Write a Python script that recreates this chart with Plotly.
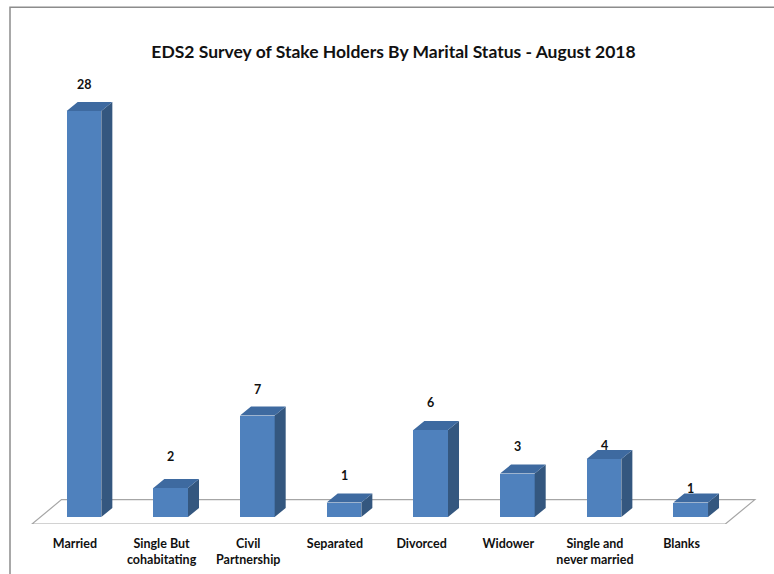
import plotly.graph_objects as go

# Survey counts by marital status
categories = [
    "Married", "Single But<br>cohabitating", "Civil<br>Partnership", "Separated",
    "Divorced", "Widower", "Single and<br>never married", "Blanks",
]
counts = [28, 2, 7, 1, 6, 3, 4, 1]

# vertical lift of each value label above its bar (px)
label_lift = [27, 32, 26, 27, 28, 27, 14, 14]

FONT = "Lato, Liberation Sans, sans-serif"
FRONT = "#4f81bd"
TOP = "#3e6aa0"
SIDE = "#34577f"

n = len(counts)
half_w = 0.2          # half of bar width (category units)
dx, dy = 0.127, 0.62  # bar depth offset (x units, value units)

# floor parallelogram
floor_front_y, floor_back_y = -0.48, 1.2
floor_x0, floor_x1 = -0.6, n - 0.6
floor_shift = 0.34

fig = go.Figure()

# front faces
fig.add_trace(go.Bar(
    x=list(range(n)), y=counts, width=2 * half_w,
    marker=dict(color=FRONT, line=dict(width=0)), showlegend=False,
))

# side and top faces
side_x, side_y, top_x, top_y = [], [], [], []
for i, v in enumerate(counts):
    r, l = i + half_w, i - half_w
    side_x += [r, r + dx, r + dx, r, r, None]
    side_y += [0, dy, v + dy, v, 0, None]
    top_x += [l, l + dx, r + dx, r, l, None]
    top_y += [v, v + dy, v + dy, v, v, None]

fig.add_trace(go.Scatter(
    x=side_x, y=side_y, mode="lines", fill="toself", fillcolor=SIDE,
    line=dict(width=0, color=SIDE), hoverinfo="skip", showlegend=False,
))
fig.add_trace(go.Scatter(
    x=top_x, y=top_y, mode="lines", fill="toself", fillcolor=TOP,
    line=dict(width=0, color=TOP), hoverinfo="skip", showlegend=False,
))

for i, v in enumerate(counts):
    fig.add_annotation(
        x=i, y=v, text=str(v), showarrow=False, yshift=label_lift[i],
        font=dict(family=FONT, size=12.5, color="#111111", weight="bold"),
    )

# floor, drawn beneath the bars
fx = [floor_x0, floor_x1, floor_x1 + floor_shift, floor_x0 + floor_shift]
fy = [floor_front_y, floor_front_y, floor_back_y, floor_back_y]
fig.add_shape(
    type="path", xref="x", yref="y", layer="below",
    path="M " + " L ".join(f"{a},{b}" for a, b in zip(fx, fy)) + " Z",
    line=dict(color="#a6a6a6", width=1.2), fillcolor="white",
)

fig.add_shape(
    type="rect", xref="paper", yref="paper",
    x0=10 / 774, x1=1.2, y0=-0.2, y1=1 - 8 / 574,
    line=dict(color="#8c8c8c", width=1.5), fillcolor="rgba(0,0,0,0)", layer="below",
)

px_per_cat = 86.67
px_per_unit = 14.5
x_origin = 84
fig.update_layout(
    width=774, height=574,
    margin=dict(l=0, r=0, t=0, b=50),
    paper_bgcolor="white", plot_bgcolor="rgba(0,0,0,0)",
    title=dict(
        text="EDS2 Survey of Stake Holders By Marital Status - August 2018",
        x=393.5 / 774, xanchor="center", y=1 - 52 / 574, yanchor="middle",
        font=dict(family=FONT, size=17.5, color="#111111", weight="bold"),
    ),
    xaxis=dict(
        range=[-x_origin / px_per_cat, (774 - x_origin) / px_per_cat],
        tickvals=[i - 0.105 for i in range(n)], ticktext=categories,
        showgrid=False, zeroline=False, showline=False, ticks="",
        tickfont=dict(family=FONT, size=12.5, color="#111111", weight="bold"),
        ticklabelstandoff=10,
    ),
    yaxis=dict(
        range=[floor_front_y, floor_front_y + 524 / px_per_unit],
        showgrid=False, zeroline=False, showline=False, showticklabels=False,
    ),
    bargap=0,
)

fig.write_html("out.html")
